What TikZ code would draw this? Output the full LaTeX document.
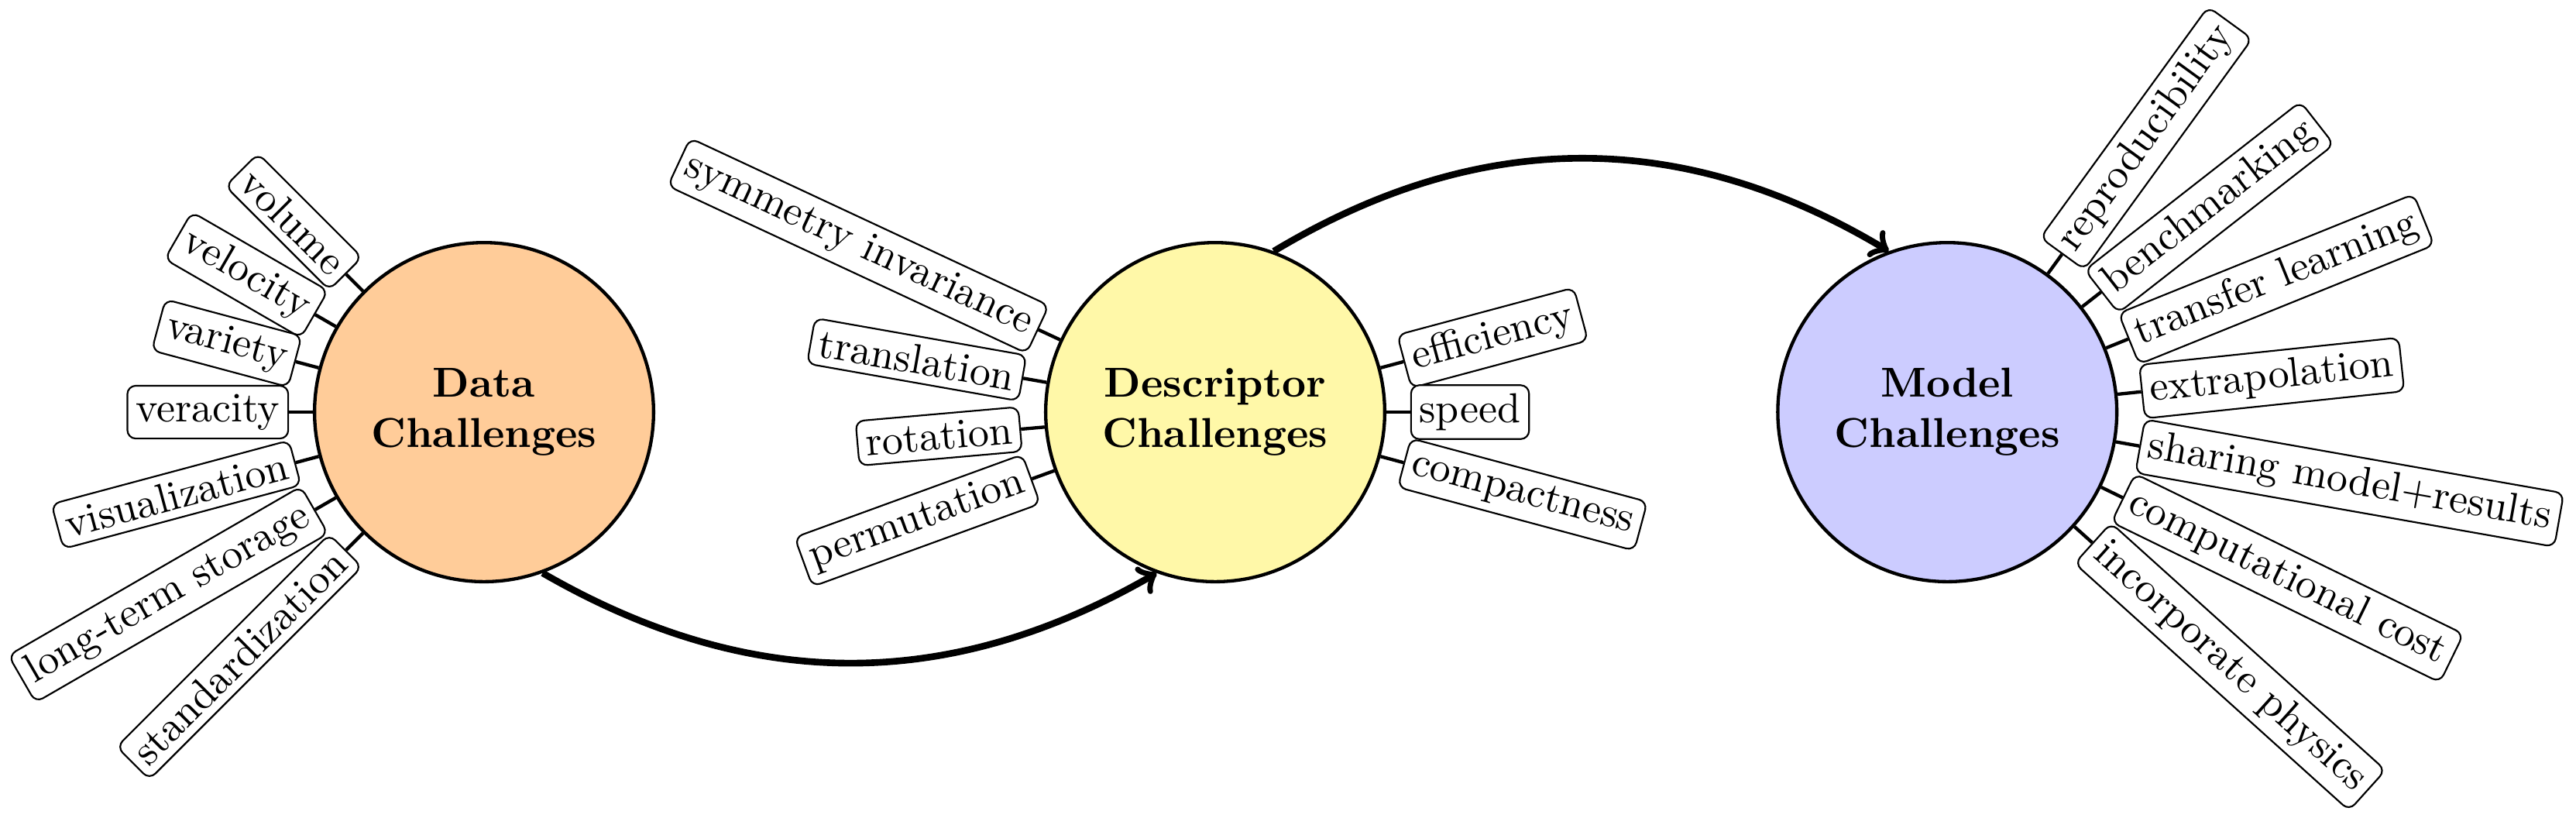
\documentclass[tikz,border=0pt]{standalone}
\usetikzlibrary{positioning}
\definecolor{datafill}{RGB}{255,204,153}
\definecolor{descfill}{RGB}{255,248,168}
\definecolor{modelfill}{RGB}{204,204,255}
\begin{document}
\begin{tikzpicture}[
        challenge/.style={circle,draw,thick,minimum size=2.85cm,align=center,font=\bfseries},
        item/.style={draw,thin,rounded corners=2pt,inner sep=2pt,fill=white},
        link/.style={thick},
        flow/.style={ultra thick,->}
    ]
    \useasboundingbox (-4.069,-3.411) rectangle (17.585,3.464);

    % Challenge circles
    \node[challenge,fill=datafill] (data) at (0,0) {Data\\Challenges};
    \node[challenge,fill=descfill] (desc) at (6.146,0) {Descriptor\\Challenges};
    \node[challenge,fill=modelfill] (model) at (12.3,0) {Model\\Challenges};

    % Data items
    \foreach \a/\t [count=\i] in {135/volume,150/velocity,165/variety,180/veracity,
            195/visualization,210/long-term storage,225/standardization}{
        \node[item,rotate=\a-180,anchor=east] (d\i) at ([shift={(\a:0.2)}]data.\a) {\t};
        \draw[link] (data.\a) -- (d\i.east);
    }

    % Descriptor items
    \foreach \a/\t [count=\i] in {155/symmetry invariance,170/translation,
            185/rotation,200/permutation}{
        \node[item,rotate=\a-180,anchor=east] (l\i) at ([shift={(\a:0.2)}]desc.\a) {\t};
        \draw[link] (desc.\a) -- (l\i.east);
    }
    \foreach \a/\t [count=\i] in {15/efficiency,0/speed,-15/compactness}{
        \node[item,rotate=\a,anchor=west] (r\i) at ([shift={(\a:0.2)}]desc.\a) {\t};
        \draw[link] (desc.\a) -- (r\i.west);
    }

    % Model items
    \foreach \a/\t [count=\i] in {54/reproducibility,38/benchmarking,22/transfer learning,
            6/extrapolation,-10/sharing model+results,-26/computational cost,
            -42/incorporate physics}{
        \node[item,rotate=\a,anchor=west] (m\i) at ([shift={(\a:0.2)}]model.\a) {\t};
        \draw[link] (model.\a) -- (m\i.west);
    }

    % Flow arrows
    \draw[flow] (data.-70) to[bend right=30] (desc.-110);
    \draw[flow] (desc.70) to[bend left=31] (model.110);
\end{tikzpicture}
\end{document}
